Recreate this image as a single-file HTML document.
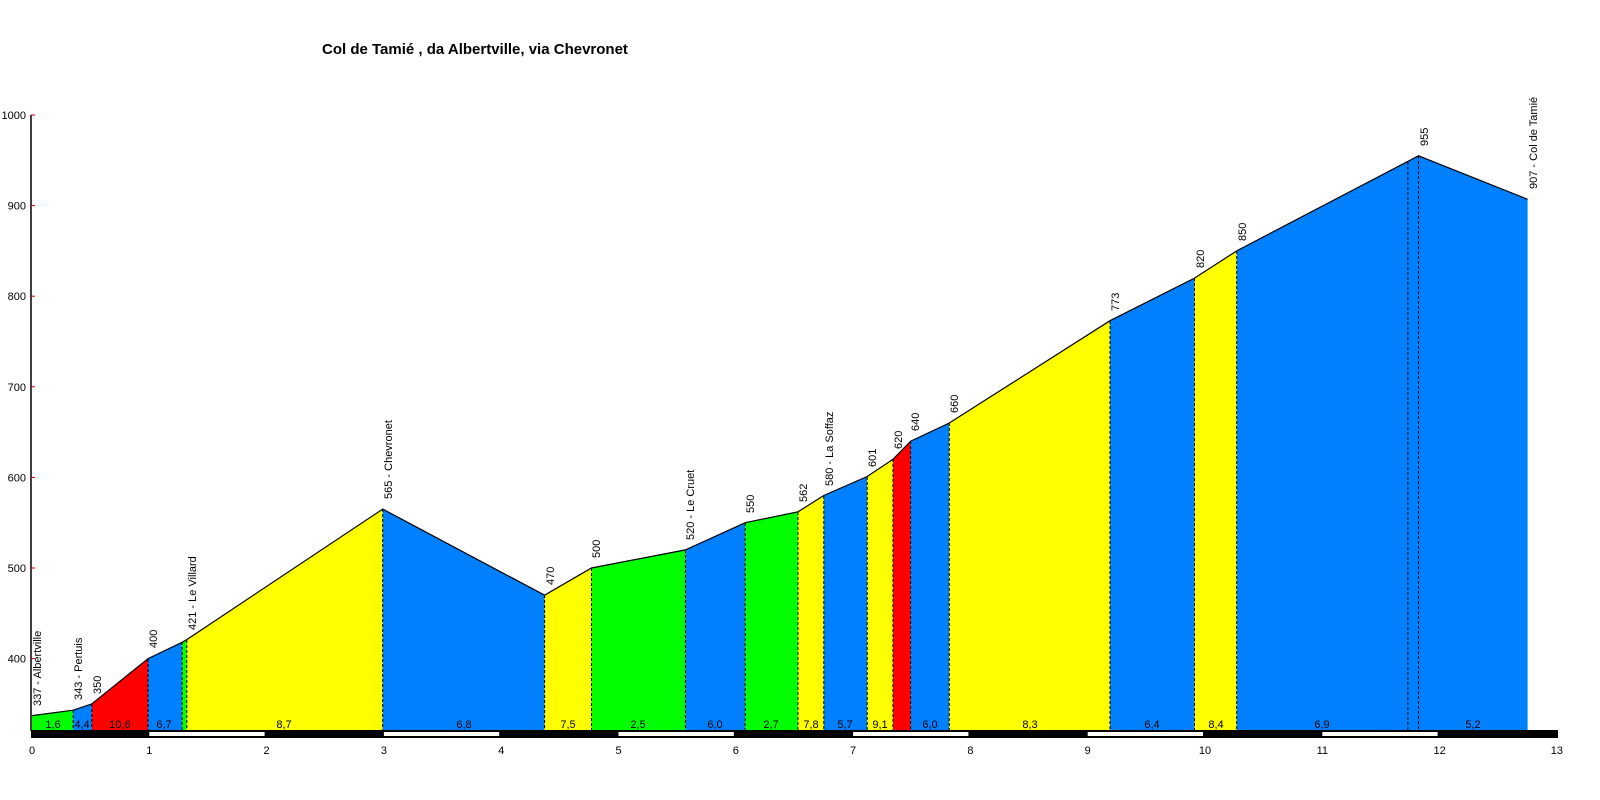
<!DOCTYPE html>
<html><head><meta charset="utf-8"><style>
html,body{margin:0;padding:0;background:#fff;}
svg{display:block;font-family:"Liberation Sans",Arial,sans-serif;}
</style></head><body>
<svg width="1600" height="800" viewBox="0 0 1600 800" xmlns="http://www.w3.org/2000/svg">
<rect width="1600" height="800" fill="#fff"/>
<text x="322" y="54" font-size="15" font-weight="bold">Col de Tamié , da Albertville, via Chevronet</text>
<!-- segments -->
<g stroke="none">
<polygon fill="#00ff00" points="32,731 32,715.6 73.1,710.2 73.1,731"/>
<polygon fill="#0080ff" points="73.1,731 73.1,710.2 91.8,703.9 91.8,731"/>
<polygon fill="#ff0000" points="91.8,731 91.8,703.9 148.1,658.6 148.1,731"/>
<polygon fill="#0080ff" points="148.1,731 148.1,658.6 182.1,642.3 182.1,731"/>
<polygon fill="#00ff00" points="182.1,731 182.1,642.3 186.8,639.6 186.8,731"/>
<polygon fill="#ffff00" points="186.8,731 186.8,639.6 382.7,509.1 382.7,731"/>
<polygon fill="#0080ff" points="382.7,731 382.7,509.1 544.6,595.2 544.6,731"/>
<polygon fill="#ffff00" points="544.6,731 544.6,595.2 591.5,568 591.5,731"/>
<polygon fill="#00ff00" points="591.5,731 591.5,568 685.4,549.9 685.4,731"/>
<polygon fill="#0080ff" points="685.4,731 685.4,549.9 745.2,522.7 745.2,731"/>
<polygon fill="#00ff00" points="745.2,731 745.2,522.7 798,511.8 798,731"/>
<polygon fill="#ffff00" points="798,731 798,511.8 823.8,495.5 823.8,731"/>
<polygon fill="#0080ff" points="823.8,731 823.8,495.5 867.2,476.5 867.2,731"/>
<polygon fill="#ffff00" points="867.2,731 867.2,476.5 893,459.3 893,731"/>
<polygon fill="#ff0000" points="893,731 893,459.3 910.6,441.2 910.6,731"/>
<polygon fill="#0080ff" points="910.6,731 910.6,441.2 949.3,423 949.3,731"/>
<polygon fill="#ffff00" points="949.3,731 949.3,423 1110,320.7 1110,731"/>
<polygon fill="#0080ff" points="1110,731 1110,320.7 1194.5,278.1 1194.5,731"/>
<polygon fill="#ffff00" points="1194.5,731 1194.5,278.1 1236.7,250.9 1236.7,731"/>
<polygon fill="#0080ff" points="1236.7,731 1236.7,250.9 1418.5,155.8 1527.6,199.3 1527.6,731"/>
</g>
<polyline fill="none" stroke="#000" stroke-width="1.2" points="32,715.6 73.1,710.2 91.8,703.9 148.1,658.6 182.1,642.3 186.8,639.6 382.7,509.1 544.6,595.2 591.5,568 685.4,549.9 745.2,522.7 798,511.8 823.8,495.5 867.2,476.5 893,459.3 910.6,441.2 949.3,423 1110,320.7 1194.5,278.1 1236.7,250.9 1418.5,155.8 1527.6,199.3"/>
<g stroke="#000" stroke-width="1" stroke-dasharray="3,2">
<line x1="73.1" y1="710" x2="73.1" y2="731"/><line x1="91.8" y1="704" x2="91.8" y2="731"/>
<line x1="148.1" y1="659" x2="148.1" y2="731"/><line x1="182.1" y1="642" x2="182.1" y2="731"/>
<line x1="186.8" y1="640" x2="186.8" y2="731"/><line x1="382.7" y1="509" x2="382.7" y2="731"/>
<line x1="544.6" y1="595" x2="544.6" y2="731"/><line x1="591.5" y1="568" x2="591.5" y2="731"/>
<line x1="685.4" y1="550" x2="685.4" y2="731"/><line x1="745.2" y1="523" x2="745.2" y2="731"/>
<line x1="798" y1="512" x2="798" y2="731"/><line x1="823.8" y1="496" x2="823.8" y2="731"/>
<line x1="867.2" y1="477" x2="867.2" y2="731"/><line x1="893" y1="459" x2="893" y2="731"/>
<line x1="910.6" y1="441" x2="910.6" y2="731"/><line x1="949.3" y1="423" x2="949.3" y2="731"/>
<line x1="1110" y1="321" x2="1110" y2="731"/><line x1="1194.5" y1="278" x2="1194.5" y2="731"/>
<line x1="1236.7" y1="251" x2="1236.7" y2="731"/><line x1="1407.9" y1="162" x2="1407.9" y2="731"/>
<line x1="1418.5" y1="156" x2="1418.5" y2="731"/>
</g>
<!-- grade labels -->
<g font-size="11" text-anchor="middle" fill="#000">
<text x="53" y="728">1,6</text><text x="82" y="728">4,4</text><text x="120" y="728">10,6</text>
<text x="164" y="728">6,7</text><text x="284" y="728">8,7</text><text x="464" y="728">6,8</text>
<text x="568" y="728">7,5</text><text x="638" y="728">2,5</text><text x="715" y="728">6,0</text>
<text x="771" y="728">2,7</text><text x="811" y="728">7,8</text><text x="845" y="728">5,7</text>
<text x="880" y="728">9,1</text><text x="930" y="728">6,0</text><text x="1030" y="728">8,3</text>
<text x="1152" y="728">6,4</text><text x="1216" y="728">8,4</text><text x="1322" y="728">6,9</text>
<text x="1473" y="728">5,2</text>
</g>
<!-- point labels -->
<g font-size="11" fill="#000">
<text transform="translate(41,706) rotate(-90)">337 - Albertville</text>
<text transform="translate(82,700) rotate(-90)">343 - Pertuis</text>
<text transform="translate(101,694) rotate(-90)">350</text>
<text transform="translate(157,648) rotate(-90)">400</text>
<text transform="translate(196,630) rotate(-90)">421 - Le Villard</text>
<text transform="translate(392,499) rotate(-90)">565 - Chevronet</text>
<text transform="translate(554,585) rotate(-90)">470</text>
<text transform="translate(600,558) rotate(-90)">500</text>
<text transform="translate(694,540) rotate(-90)">520 - Le Cruet</text>
<text transform="translate(754,513) rotate(-90)">550</text>
<text transform="translate(807,502) rotate(-90)">562</text>
<text transform="translate(833,486) rotate(-90)">580 - La Soffaz</text>
<text transform="translate(876,467) rotate(-90)">601</text>
<text transform="translate(902,449) rotate(-90)">620</text>
<text transform="translate(919,431) rotate(-90)">640</text>
<text transform="translate(958,413) rotate(-90)">660</text>
<text transform="translate(1119,311) rotate(-90)">773</text>
<text transform="translate(1204,268) rotate(-90)">820</text>
<text transform="translate(1246,241) rotate(-90)">850</text>
<text transform="translate(1428,146) rotate(-90)">955</text>
<text transform="translate(1537,189) rotate(-90)">907 - Col de Tamié</text>
</g>
<!-- y axis -->
<line x1="31" y1="115" x2="31" y2="731" stroke="#000" stroke-width="1.5"/>
<g stroke="#c00000" stroke-width="1">
<line x1="31" y1="115" x2="35" y2="115"/><line x1="31" y1="205.6" x2="35" y2="205.6"/>
<line x1="31" y1="296.2" x2="35" y2="296.2"/><line x1="31" y1="386.8" x2="35" y2="386.8"/>
<line x1="31" y1="477.4" x2="35" y2="477.4"/><line x1="31" y1="568" x2="35" y2="568"/>
<line x1="31" y1="658.6" x2="35" y2="658.6"/>
</g>
<g font-size="11" text-anchor="end" fill="#000">
<text x="26" y="119">1000</text><text x="26" y="209.6">900</text><text x="26" y="300.2">800</text>
<text x="26" y="390.8">700</text><text x="26" y="481.4">600</text><text x="26" y="572">500</text>
<text x="26" y="662.6">400</text>
</g>
<!-- km bar -->
<rect x="31" y="730" width="1527" height="8" fill="#000"/>
<g fill="#fff">
<rect x="149.3" y="732" width="115.3" height="4"/><rect x="383.9" y="732" width="115.3" height="4"/>
<rect x="618.5" y="732" width="115.3" height="4"/><rect x="853.1" y="732" width="115.3" height="4"/>
<rect x="1087.7" y="732" width="115.3" height="4"/><rect x="1322.3" y="732" width="115.3" height="4"/>
</g>
<g font-size="11" text-anchor="middle" fill="#000">
<text x="32" y="754">0</text><text x="149.3" y="754">1</text><text x="266.6" y="754">2</text>
<text x="383.9" y="754">3</text><text x="501.2" y="754">4</text><text x="618.5" y="754">5</text>
<text x="735.8" y="754">6</text><text x="853.1" y="754">7</text><text x="970.4" y="754">8</text>
<text x="1087.7" y="754">9</text><text x="1205" y="754">10</text><text x="1322.3" y="754">11</text>
<text x="1439.6" y="754">12</text><text x="1556.9" y="754">13</text>
</g>
</svg>
</body></html>
